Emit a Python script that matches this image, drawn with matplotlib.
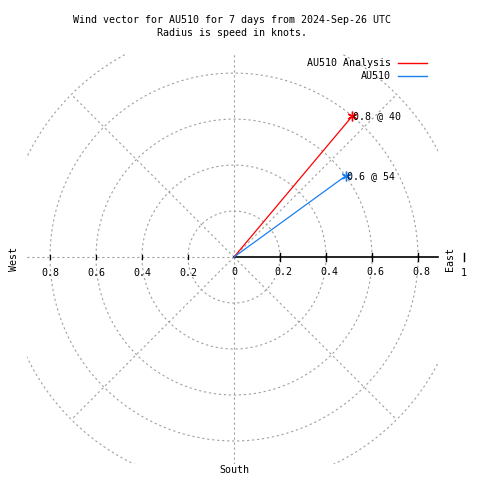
import numpy as np
import matplotlib.pyplot as plt

plt.rcParams['font.family'] = 'DejaVu Sans Mono'
plt.rcParams['font.size'] = 7.2

# wind vectors: speed (knots) and direction (deg, clockwise from north)
series = ['AU510 Analysis', 'AU510']
speeds = [0.8, 0.6]
directions = [40, 54]
colors = ['#ff0000', '#1a80f0']

rings = [0.2, 0.4, 0.6, 0.8, 1.0]
tick_labels = ['0.2', '0.4', '0.6', '0.8']

W = H = 480
fig = plt.figure(figsize=(4.8, 4.8), dpi=100)


def fx(px):
    return px / W


def fy(py):
    return 1 - py / H


# plot box in pixels: x 27..438, y 54..464, center at (234, 257), 230 px per unit
ax = fig.add_axes([fx(27), fy(464), (438 - 27) / W, (464 - 54) / H])
ax.set_xlim(-0.9, 0.887)
ax.set_ylim(-0.9, 0.883)
ax.axis('off')

grid_kw = dict(color='#a0a0a0', lw=0.8, ls=(0, (2, 2.5)))
t = np.linspace(0, 2 * np.pi, 400)
for r in rings:
    ax.plot(r * np.cos(t), r * np.sin(t), **grid_kw)
for a in range(45, 360, 45):
    ar = np.radians(a)
    ax.plot([0, np.cos(ar)], [0, np.sin(ar)], **grid_kw)

# radial axis to the east
ax.plot([0, 0.887], [0, 0], color='black', lw=1.2, clip_on=False)
tk = 0.018
for r in rings:
    ax.plot([r, r], [-tk, tk], color='black', lw=1.0, clip_on=False)
for r in rings[:-1]:
    ax.plot([-r, -r], [-0.01, 0.01], color='black', lw=0.9)

ly = -16 / 230
for r, lab in zip(rings[:-1], tick_labels):
    ax.text(-r, ly, lab, ha='center', va='center')
    ax.text(r + 3 / 230, ly + 1 / 230, lab, ha='center', va='center')
ax.text(0, ly + 1 / 230, '0', ha='center', va='center')
ax.text(1.0, ly, '1', ha='center', va='center', clip_on=False)

for name, sp, d, c in zip(series, speeds, directions, colors):
    x = sp * np.sin(np.radians(d))
    y = sp * np.cos(np.radians(d))
    ax.plot([0, x], [0, y], color=c, lw=0.9, clip_on=False)
    ax.plot([x], [y], marker=(6, 2, 0), color=c, ms=7, mew=1.0)
    ax.text(x + 1 / 230, y, f'{sp} @ {d}', ha='left', va='center')

fig.text(fx(450), fy(259), 'East', rotation=90, ha='center', va='center')
fig.text(fx(14), fy(259), 'West', rotation=90, ha='center', va='center')
fig.text(fx(234), fy(470), 'South', ha='center', va='center')

fig.text(fx(232), fy(20), 'Wind vector for AU510 for 7 days from 2024-Sep-26 UTC',
         ha='center', va='center')
fig.text(fx(232), fy(33), 'Radius is speed in knots.', ha='center', va='center')

# legend
for i, (name, c) in enumerate(zip(series, colors)):
    yy = fy(63 + 13 * i)
    fig.text(fx(391), yy, name, ha='right', va='center')
    fig.add_artist(plt.Line2D([fx(398), fx(427)], [yy, yy], color=c, lw=1.0))

fig.savefig('out.png', dpi=100)
